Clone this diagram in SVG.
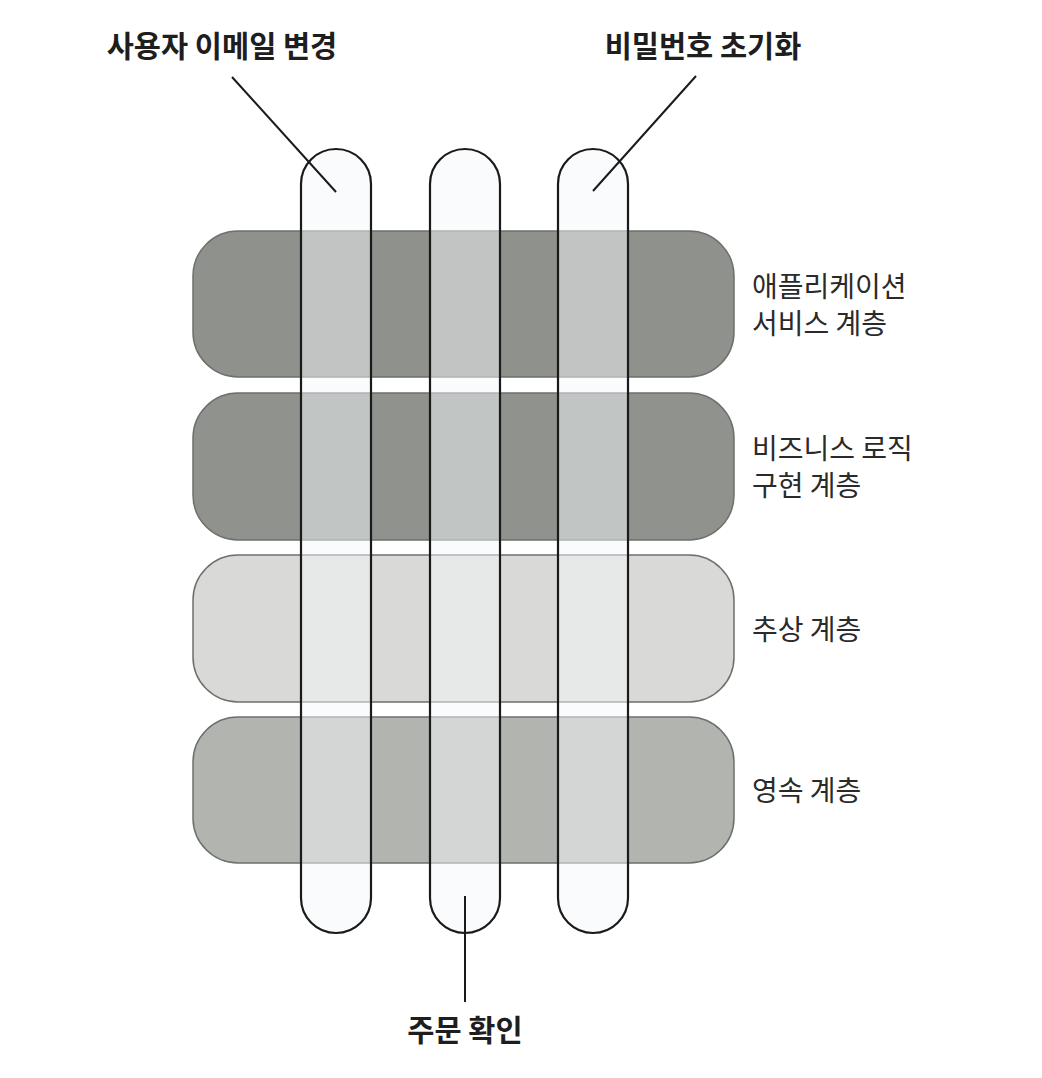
<svg xmlns="http://www.w3.org/2000/svg" width="1042" height="1078" viewBox="0 0 1042 1078">
<style>
.layer{stroke:#6e706c;stroke-width:1.5}
.pill{fill:#f4f7f9;fill-opacity:0.5;stroke:#1a1a1a;stroke-width:2.2}
.lead{stroke:#1a1a1a;stroke-width:2;fill:none}
.title{font-family:"Noto Sans CJK KR","Noto Sans",sans-serif;font-size:29.5px;font-weight:700;fill:#1e1e1e;text-anchor:middle}
.lbl{font-family:"Noto Sans CJK KR","Noto Sans",sans-serif;font-size:28px;font-weight:400;fill:#2a2a2a}
</style>
<rect width="1042" height="1078" fill="#ffffff"/>
<g id="layer-app">
<rect class="layer" x="193" y="231" width="541" height="146" rx="45" fill="#8e918c"/>
<text class="lbl" x="752" y="297">애플리케이션</text>
<text class="lbl" x="752" y="334">서비스 계층</text>
</g>
<g id="layer-biz">
<rect class="layer" x="193" y="393" width="541" height="147" rx="45" fill="#8f928d"/>
<text class="lbl" x="752" y="459">비즈니스 로직</text>
<text class="lbl" x="752" y="496">구현 계층</text>
</g>
<g id="layer-abs">
<rect class="layer" x="193" y="555" width="541" height="147" rx="45" fill="#d9dad7"/>
<text class="lbl" x="752" y="640">추상 계층</text>
</g>
<g id="layer-per">
<rect class="layer" x="193" y="717" width="541" height="146" rx="45" fill="#b2b4b0"/>
<text class="lbl" x="752" y="801">영속 계층</text>
</g>
<g id="feature-email">
<rect class="pill" x="301" y="149" width="70" height="784" rx="35"/>
<text class="title" x="222" y="57">사용자 이메일 변경</text>
</g>
<g id="feature-order">
<rect class="pill" x="430" y="149" width="70" height="784" rx="35"/>
<text class="title" x="465" y="1041">주문 확인</text>
</g>
<g id="feature-password">
<rect class="pill" x="558" y="149" width="70" height="784" rx="35"/>
<text class="title" x="703" y="57">비밀번호 초기화</text>
</g>
<g id="connectors">
<line class="lead" x1="232" y1="77" x2="336" y2="192"/>
<line class="lead" x1="696" y1="76" x2="593" y2="191"/>
<line class="lead" x1="465" y1="896" x2="465" y2="1002"/>
</g>
</svg>
